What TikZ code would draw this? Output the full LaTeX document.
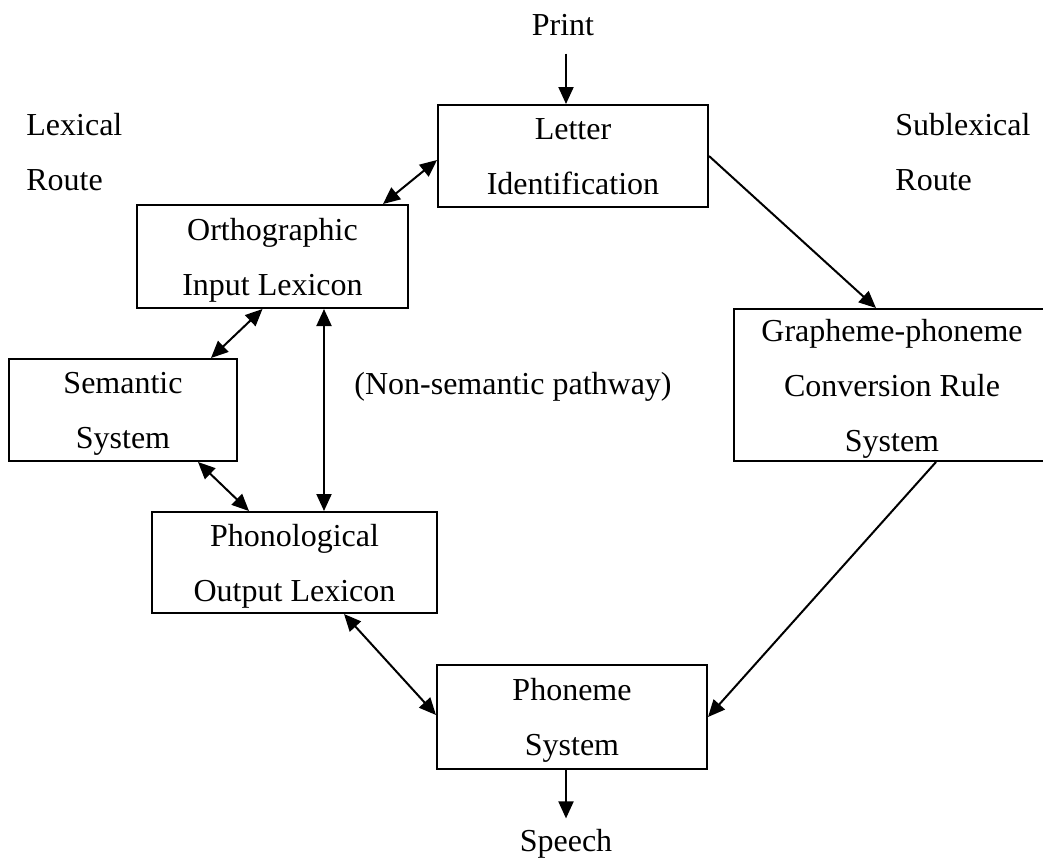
\documentclass[tikz,border=0pt]{standalone}
\usepackage{fontspec}
\setmainfont{Liberation Serif}
\usetikzlibrary{arrows.meta,positioning,calc}

\tikzset{
  box/.style={draw,line width=1pt,inner xsep=0pt,inner ysep=-3.5pt,align=center},
  lbl/.style={inner sep=0pt,align=left},
  arr/.style={-{Triangle[length=8.5pt,width=7.5pt]},line width=1pt},
  darr/.style={{Triangle[length=8.5pt,width=7.5pt]}-{Triangle[length=8.5pt,width=7.5pt]},line width=1pt}
}

\begin{document}
\begin{tikzpicture}[x=0.5pt,y=-0.5pt,font=\fontsize{16}{27.5}\selectfont]
\useasboundingbox (0,0) rectangle (1043,859);
% boxes
\node[box,minimum width=135pt,minimum height=51pt] (lid) at (573,156) {\strut Letter\\\strut Identification};
\node[box,minimum width=135.5pt,minimum height=51.5pt] (oil) at (272.5,256.5) {\strut Orthographic\\\strut Input Lexicon};
\node[box,minimum width=114pt,minimum height=51pt] (sem) at (123,410) {\strut Semantic\\\strut System};
\node[box,minimum width=142.5pt,minimum height=50.5pt] (pol) at (294.5,562.5) {\strut Phonological\\\strut Output Lexicon};
\node[box,minimum width=135pt,minimum height=52pt] (phs) at (572,717) {\strut Phoneme\\\strut System};
\node[box,minimum width=158pt,minimum height=76pt] (gpc) at (892,385) {\strut Grapheme-phoneme\\\strut Conversion Rule\\\strut System};
% labels
\node[lbl,anchor=base] (print) at (563,35) {Print};
\node[lbl,anchor=base] (speech) at (566,851) {Speech};
\node[lbl,anchor=west] (lex) at (26,151.5) {\strut Lexical\\\strut Route};
\node[lbl,anchor=west] (sublex) at (895,151.5) {\strut Sublexical\\\strut Route};
\node[lbl,anchor=base] (nonsem) at (513,394) {(Non-semantic pathway)};
% connections
\draw[arr] ($(print.south -| lid.north)+(-7,18)$) -- ($(lid.north)+(-7,0)$);
\draw[darr] ($(lid.west)+(0,4)$) -- ($(oil.north east)+(-26,0)$);
\draw[darr] ($(oil.south)+(-10,0)$) -- ($(sem.north east)+(-27,0)$);
\draw[darr] ($(oil.south east)+(-85,0)$) coordinate (v) -- (v |- pol.north);
\draw[darr] ($(sem.south east)+(-40,0)$) -- ($(pol.north west)+(98,0)$);
\draw[darr] ($(pol.south east)+(-94,0)$) -- ($(phs.west)+(0,-2)$);
\draw[arr] (lid.east) -- ($(gpc.north west)+(143,0)$);
\draw[arr] ($(gpc.south west)+(203,0)$) -- (phs.east);
\draw[arr] ($(phs.south)+(-6,0)$) -- ($(speech.north)+(0,-10)$);
\end{tikzpicture}
\end{document}
